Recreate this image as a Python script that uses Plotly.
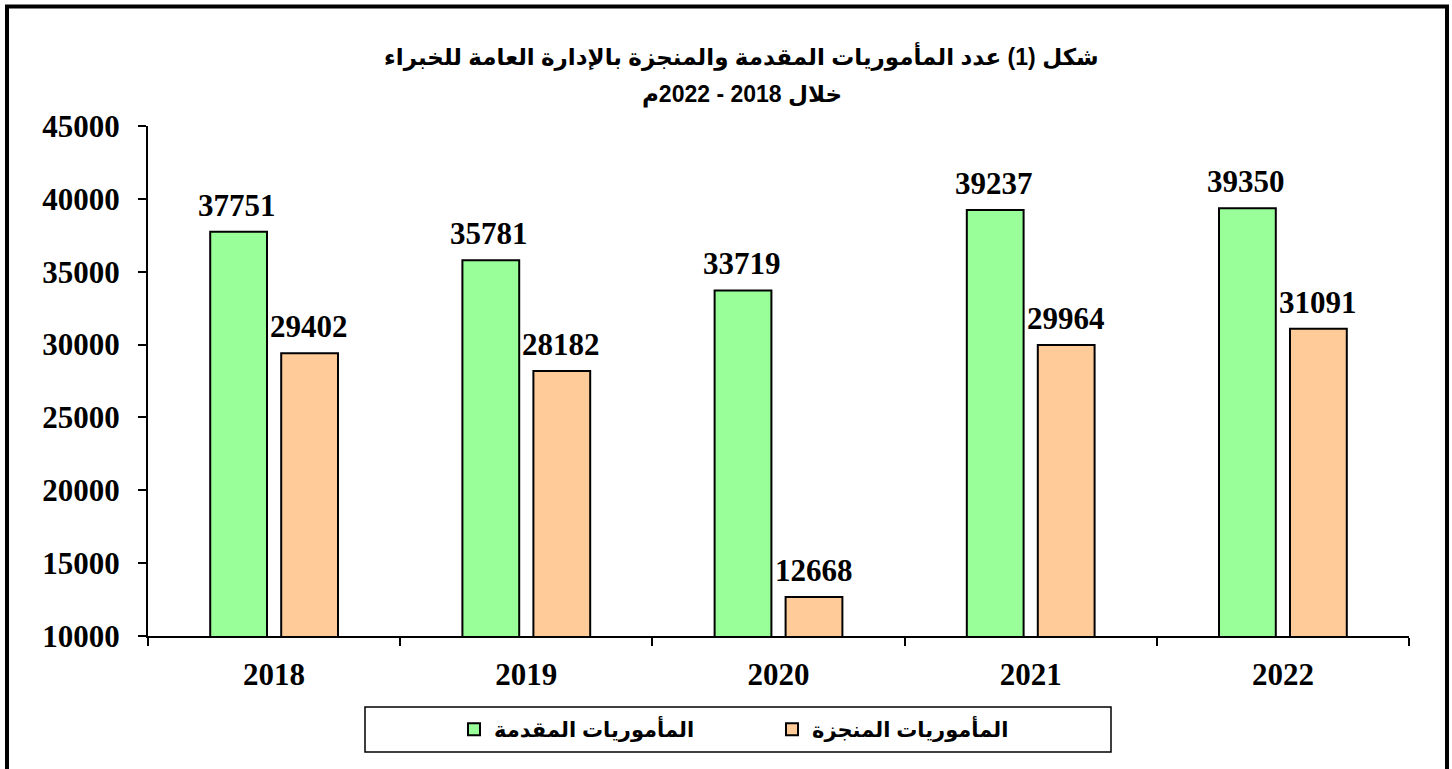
import plotly.graph_objects as go

years = ["2018", "2019", "2020", "2021", "2022"]
submitted = [37751, 35781, 33719, 39237, 39350]
completed = [29402, 28182, 12668, 29964, 31091]
name_submitted = "المأموريات المقدمة"
name_completed = "المأموريات المنجزة"
title_line1 = "شكل (1) عدد المأموريات المقدمة والمنجزة بالإدارة العامة للخبراء"
title_line2 = "خلال 2018 - 2022م"
y_ticks = [10000, 15000, 20000, 25000, 30000, 35000, 40000, 45000]

serif = "Liberation Serif, Times New Roman, serif"
sans = "Liberation Sans, Arial, DejaVu Sans, sans-serif"
num_font = dict(family=serif, size=31, color="black")

fig = go.Figure()
fig.add_trace(go.Bar(x=years, y=submitted, name=f"<b>{name_submitted}</b>", legend="legend",
                     marker=dict(color="#99FF99", line=dict(color="black", width=2))))
fig.add_trace(go.Bar(x=years, y=completed, name=f"<b>{name_completed}</b>", legend="legend2",
                     marker=dict(color="#FFCC99", line=dict(color="black", width=2))))

annotations = []
# category axis: annotation x given as the category index
for i, yv in enumerate(submitted):
    annotations.append(dict(x=i, y=yv, xref="x", yref="y", text=f"<b>{yv}</b>", showarrow=False,
                            xshift=-37, yshift=7, yanchor="bottom", font=num_font))
for i, yv in enumerate(completed):
    annotations.append(dict(x=i, y=yv, xref="x", yref="y", text=f"<b>{yv}</b>", showarrow=False,
                            xshift=35, yshift=7, yanchor="bottom", font=num_font))
annotations.append(dict(x=0.471, y=(636 - 56) / 510, xref="paper", yref="paper", text=f"<b>{title_line1}</b>",
                        showarrow=False, xanchor="center", yanchor="middle",
                        font=dict(family=sans, size=23, color="black")))
annotations.append(dict(x=0.471, y=(636 - 94) / 510, xref="paper", yref="paper", text=f"<b>{title_line2}</b>",
                        showarrow=False, xanchor="center", yanchor="middle",
                        font=dict(family=sans, size=23, color="black")))

shapes = [
    # outer frame
    dict(type="rect", xref="paper", yref="paper", x0=(7 - 148) / 1261, x1=(1447 - 148) / 1261,
         y0=-0.4, y1=(636 - 6.5) / 510, line=dict(color="black", width=4), layer="below"),
    # legend box
    dict(type="rect", xref="paper", yref="paper", x0=(365 - 148) / 1261, x1=(1111 - 148) / 1261,
         y0=(636 - 752) / 510, y1=(636 - 707) / 510, line=dict(color="black", width=1.5)),
]

legend_font = dict(family=sans, size=21, color="black")
fig.update_layout(
    width=1452, height=769,
    margin=dict(l=148, r=43, t=126, b=133),
    paper_bgcolor="white", plot_bgcolor="white",
    barmode="group", bargap=0.437, bargroupgap=0.2,
    showlegend=True,
    legend=dict(x=(454 - 148) / 1261, y=(636 - 729.5) / 510, xanchor="left", yanchor="middle",
                orientation="h", font=legend_font, bgcolor="rgba(0,0,0,0)", borderwidth=0),
    legend2=dict(x=(772 - 148) / 1261, y=(636 - 729.5) / 510, xanchor="left", yanchor="middle",
                 orientation="h", font=legend_font, bgcolor="rgba(0,0,0,0)", borderwidth=0),
    xaxis=dict(type="category", range=[-0.5, len(years) - 0.5], automargin=False, showline=True,
               linecolor="black", linewidth=2, ticks="outside", tickson="boundaries",
               ticklen=8, tickwidth=2, tickcolor="black", showgrid=False, zeroline=False,
               tickfont=dict(family=serif, size=31, color="black"), ticklabelstandoff=10,
               tickangle=0, tickprefix="<b>", ticksuffix="</b>"),
    yaxis=dict(range=[10000, 45000], tickvals=y_ticks, ticktext=[f"<b>{v}</b>" for v in y_ticks],
               automargin=False, showline=True, linecolor="black", linewidth=2, ticks="outside",
               ticklen=8, tickwidth=2, tickcolor="black", showgrid=False, zeroline=False,
               tickfont=dict(family=serif, size=31, color="black"), ticklabelstandoff=12),
    annotations=annotations,
    shapes=shapes,
)

fig.write_html("out.html", config={"displayModeBar": False},
               post_script="document.body.style.margin='0';")
